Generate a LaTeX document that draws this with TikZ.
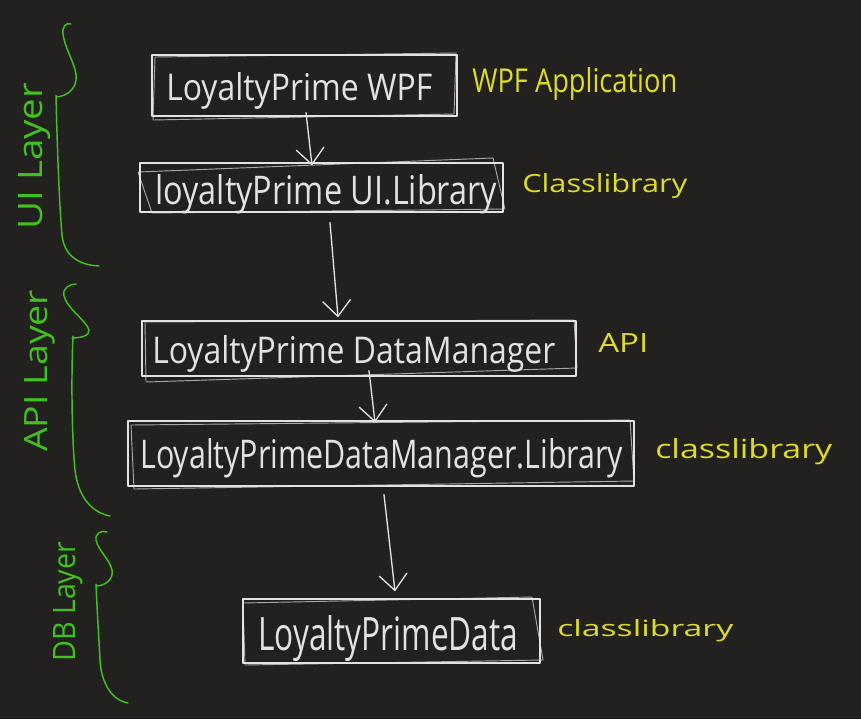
\documentclass[tikz,border=0pt]{standalone}
\usepackage{fontspec}
\setmainfont{Open Sans}
\usepackage{graphicx}
\usetikzlibrary{arrows.meta}
\definecolor{bgc}{RGB}{34,33,32}
\definecolor{linec}{RGB}{226,226,226}
\definecolor{greenc}{RGB}{66,192,32}
\definecolor{yellowc}{RGB}{222,220,40}
\newlength{\pxu}\setlength{\pxu}{0.75pt}
\newcommand{\fitbox}[3]{\resizebox{#1\pxu}{#2\pxu}{#3}}
\begin{document}
\begin{tikzpicture}[x=0.75pt,y=-0.75pt,
  boxnode/.style={draw=linec, line width=0.9pt, inner sep=0pt, line join=round},
  sketch/.style={draw=linec, line width=0.7pt, opacity=0.7, line join=round},
  boxtext/.style={text=linec, inner sep=0pt, anchor=base west},
  labtext/.style={text=yellowc, inner sep=0pt, anchor=base west},
  layertext/.style={text=greenc, inner sep=0pt, anchor=base west},
  brace/.style={draw=greenc, line width=1.1pt, line cap=round, line join=round},
  flow/.style={draw=linec, line width=1pt, line cap=round,
    -{Straight Barb[length=12pt,width=21pt,line width=1pt]}}]
\fill[bgc] (0,0) rectangle (861,719);
\useasboundingbox (0,0) rectangle (861,719);

% boxes
\node[boxnode, minimum width=228.75pt, minimum height=45.75pt] (b1) at (304.5,85.5) {};
\node[boxnode, minimum width=272.25pt, minimum height=36.75pt] (b2) at (321.5,187.5) {};
\node[boxnode, minimum width=325.5pt, minimum height=41.25pt] (b3) at (359,348.5) {};
\node[boxnode, minimum width=379.5pt, minimum height=48.75pt] (b4) at (381,453.5) {};
\node[boxnode, minimum width=222.75pt, minimum height=48pt] (b5) at (391.5,631) {};

% sketchy second strokes
\draw[sketch] (155,57) -- (456,53) -- (454,114) -- (153,120) -- cycle;
\draw[sketch] (138,172) -- (493,158) -- (505,209) -- (152,213) -- cycle;
\draw[sketch] (145,322) -- (574,320) -- (577,368) -- (146,382) -- cycle;
\draw[sketch] (131,425) -- (630,420) -- (634,481) -- (134,489) -- cycle;
\draw[sketch] (243,603) -- (532,597) -- (543,660) -- (245,665) -- cycle;

% box texts
\node[boxtext] (t1) at (166,100) {\fitbox{266}{28}{LoyaltyPrime WPF}};
\node[boxtext] (t2) at (155,204) {\fitbox{342}{30}{loyaltyPrime UI.Library}};
\node[boxtext] (t3) at (152,363) {\fitbox{403}{28}{LoyaltyPrime DataManager}};
\node[boxtext] (t4) at (140,468) {\fitbox{483}{30}{LoyaltyPrimeDataManager.Library}};
\node[boxtext] (t5) at (258,650) {\fitbox{260}{35}{LoyaltyPrimeData}};

% yellow labels
\node[labtext] (l1) at (472,92) {\fitbox{205}{25}{WPF Application}};
\node[labtext] (l2) at (522,192) {\fitbox{165}{19}{Classlibrary}};
\node[labtext] (l3) at (598,352) {\fitbox{50}{19}{API}};
\node[labtext] (l4) at (655,458) {\fitbox{177}{20}{classlibrary}};
\node[labtext] (l5) at (557,636) {\fitbox{176}{17}{classlibrary}};

% layer labels
\node[layertext, rotate=90] (g1) at (42,230) {\fitbox{147}{24}{UI Layer}};
\node[layertext, rotate=90] (g2) at (47,452) {\fitbox{162}{23}{API Layer}};
\node[layertext, rotate=90] (g3) at (75,662) {\fitbox{120}{22}{DB Layer}};

% arrows
\draw[flow] ([shift={(1.5,-4)}]b1.south) -- ([shift={(-9.5,3)}]b2.north);
\draw[flow] ([shift={(8.5,10)}]b2.south) -- ([shift={(-21,-3)}]b3.north);
\draw[flow] ([shift={(10,-6)}]b3.south) -- ([shift={(-6,2)}]b4.north);
\draw[flow] ([shift={(3,8)}]b4.south) -- ([shift={(3.5,-7)}]b5.north);

% braces
\draw[brace] (71,24) .. controls (66,22) and (62,27) .. (63,34)
  .. controls (65,50) and (78,68) .. (76,80)
  .. controls (75,90) and (66,96) .. (57,97);
\draw[brace] (56,95) .. controls (57,140) and (59,200) .. (62,235)
  .. controls (64,255) and (78,265) .. (99,266);

\draw[brace] (76,284) .. controls (70,284) and (62,288) .. (64,296)
  .. controls (68,310) and (86,320) .. (89,330)
  .. controls (90,336) and (80,338) .. (72,338);
\draw[brace] (73,336) .. controls (71,380) and (72,440) .. (75,470)
  .. controls (78,495) and (90,512) .. (110,516);

\draw[brace] (107,532) .. controls (102,530) and (95,533) .. (96,540)
  .. controls (98,550) and (110,560) .. (112,570)
  .. controls (114,580) and (104,586) .. (96,586);
\draw[brace] (96,584) .. controls (97,610) and (99,640) .. (100,660)
  .. controls (101,680) and (110,700) .. (128,703);
\end{tikzpicture}
\end{document}
